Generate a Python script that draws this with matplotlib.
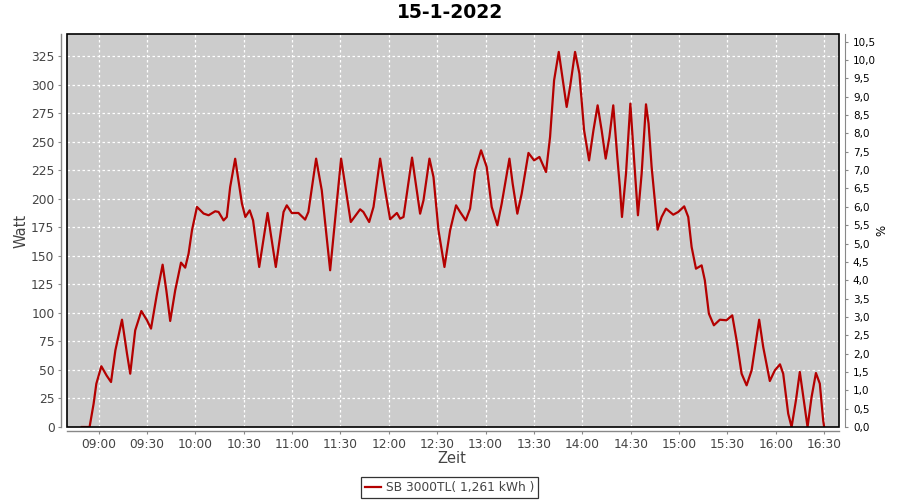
import matplotlib
matplotlib.use("Agg")
import matplotlib.pyplot as plt
from matplotlib.patches import Rectangle
from matplotlib.ticker import FixedLocator, FuncFormatter

# ---- data (minutes after 09:00, Watt) ----
minutes = [-10.4, -5.6, -3.1, -1.4, 1.7, 5.0, 7.7, 10.4, 14.5, 17.6, 19.6, 22.7, 26.5, 30.0,
           32.5, 36.2, 39.7, 42.0, 44.4, 47.5, 51.1, 53.7, 55.8, 57.9, 61.0, 65.1, 68.2, 72.3,
           74.4, 77.5, 79.5, 81.6, 84.7, 88.9, 91.0, 93.7, 95.8, 99.6, 104.8, 109.9, 114.7,
           116.7, 119.8, 123.9, 128.1, 130.1, 134.9, 138.4, 143.6, 150.4, 156.4, 162.2, 164.2,
           167.8, 170.5, 174.6, 177.7, 180.8, 185.0, 187.0, 189.1, 194.4, 197.3, 199.4, 201.5,
           205.2, 207.7, 210.8, 214.5, 218.0, 221.7, 224.2, 227.7, 230.4, 233.5, 237.2, 240.7,
           243.8, 247.3, 250.0, 254.8, 256.8, 259.7, 262.4, 266.6, 270.1, 273.4, 277.5, 280.0,
           282.5, 285.4, 287.9, 290.3, 292.4, 295.5, 298.2, 301.1, 304.2, 306.9, 309.5, 312.0,
           314.5, 316.8, 319.2, 321.7, 323.3, 324.6, 327.1, 329.8, 332.0, 334.5, 336.8, 339.5,
           341.1, 343.0, 346.7, 349.2, 351.9, 356.4, 359.5, 363.2, 365.7, 367.8, 370.5, 374.0,
           376.0, 378.5, 381.6, 385.3, 389.4, 393.0, 395.7, 398.8, 401.9, 405.0, 409.7, 412.2,
           416.3, 419.4, 422.6, 424.6, 427.7, 429.8, 432.5, 434.9, 437.4, 439.7, 442.2, 444.9,
           447.3, 449.4, 450.0]
watt = [0, 0, 20.4, 38.0, 53.2, 45.0, 39.4, 67.2, 94.0, 64.3, 46.7, 84.7, 101.6, 93.5,
        86.2, 116.8, 142.2, 119.7, 92.9, 119.7, 144.0, 139.6, 151.9, 172.3, 192.8, 187.0, 185.5, 189.0,
        188.4, 181.0, 184.0, 210.3, 235.0, 195.7, 184.0, 189.8, 181.0, 140.2, 187.5, 140.2, 188.4,
        194.2, 187.5, 187.5, 181.7, 188.4, 235.1, 207.4, 137.3, 235.1, 179.6, 190.7, 188.4,
        179.6, 192.8, 235.1, 207.4, 182.0, 187.5, 182.5, 184.0, 236.0, 207.4, 186.9, 198.6,
        235.1, 219.0, 172.3, 140.2, 172.3, 194.2, 188.4, 181.0, 191.3, 224.9, 242.4, 227.8,
        192.8, 176.7, 195.7, 235.1, 213.2, 186.9, 204.4, 240.1, 233.6, 236.6, 223.4, 254.1,
        303.7, 328.6, 303.7, 280.4, 297.9, 328.6, 309.6, 259.9, 233.6, 259.9, 281.8, 259.9,
        235.1, 254.1, 281.8, 236.6, 210.3, 184.0, 222.0, 283.3, 236.6, 185.5, 222.0, 282.7,
        265.8, 227.8, 172.9, 184.0, 191.3, 186.0, 188.4, 193.3, 184.0, 157.7, 138.7, 141.6,
        128.5, 99.3, 89.1, 94.0, 93.5, 97.8, 75.9, 46.7, 36.5, 49.6, 94.0, 70.1,
        40.3, 49.6, 54.9, 46.7, 11.7, 0, 23.4, 48.2, 23.4, 0, 26.3, 47.3,
        38.0, 5.8, 0]
x_labels = ["09:00", "09:30", "10:00", "10:30", "11:00", "11:30", "12:00", "12:30",
            "13:00", "13:30", "14:00", "14:30", "15:00", "15:30", "16:00", "16:30"]
y_ticks = list(range(0, 326, 25))
pct_ticks = [i * 0.5 for i in range(22)]
title = "15-1-2022"
legend_label = "SB 3000TL( 1,261 kWh )"

def to_min(s):
    h, m = s.split(":")
    return int(h) * 60 + int(m)

x = [540 + m for m in minutes]
xt = [to_min(s) for s in x_labels]

W, H = 900, 500
fig = plt.figure(figsize=(9, 5), dpi=100)
L, R, T, B = 67, 839, 34, 427
ax = fig.add_axes([L / W, 1 - B / H, (R - L) / W, (B - T) / H])
ax.set_facecolor("#cccccc")

line, = ax.plot(x, watt, color="#b40000", lw=1.6, zorder=3, label=legend_label,
                solid_joinstyle="round")

span = x[-1] - x[0]
ax.set_xlim(x[0] - 0.02 * span, x[-1] + 0.02 * span)
ax.set_ylim(0, 344.3)

ax.xaxis.set_major_locator(FixedLocator(xt))
ax.set_xticklabels(x_labels)
ax.set_yticks(y_ticks)

ax.grid(True, color="white", linestyle=(0, (2, 2)), linewidth=0.9)
ax.set_axisbelow(True)

for s in ["top", "right"]:
    ax.spines[s].set_visible(False)
ax.spines["left"].set_position(("outward", 4))
ax.spines["bottom"].set_position(("outward", 3))
for s in ["left", "bottom"]:
    ax.spines[s].set_color("#888888")
    ax.spines[s].set_linewidth(1.0)
ax.tick_params(axis="both", length=2, color="#888888", labelsize=8.8,
               labelcolor="#444444", pad=3)

ax.add_patch(Rectangle((0, 0), 1, 1, transform=ax.transAxes, fill=False,
                       ec="black", lw=1.2, clip_on=False, zorder=5))

ax2 = ax.twinx()
ax2.set_ylim(0, 344.3 / 32.15)
ax2.set_yticks(pct_ticks)
ax2.yaxis.set_major_formatter(FuncFormatter(lambda v, p: f"{v:.1f}".replace(".", ",")))
for s in ["top", "left", "bottom"]:
    ax2.spines[s].set_visible(False)
ax2.spines["right"].set_position(("outward", 4))
ax2.spines["right"].set_color("#888888")
ax2.tick_params(axis="y", length=2, color="#888888", labelsize=7.5,
                labelcolor="black", pad=4)

fig.text(450 / W, 1 - 13 / H, title, ha="center", va="center",
         fontsize=13.5, fontweight="bold")
fig.text(20.7 / W, 1 - 230.7 / H, "Watt", rotation=90, ha="center", va="center",
         fontsize=10.5, color="#444444")
fig.text(451.7 / W, 1 - 458.7 / H, "Zeit", ha="center", va="center",
         fontsize=10.5, color="#444444")
fig.text(881.7 / W, 1 - 230 / H, "%", rotation=90, ha="center", va="center",
         fontsize=8.5, color="black")

leg = fig.legend(handles=[line], loc="center", bbox_to_anchor=(449.5 / W, 1 - 487.5 / H),
                 frameon=True, fancybox=False, edgecolor="black", fontsize=8.8,
                 handlelength=1.3, handletextpad=0.4, borderpad=0.3, borderaxespad=0)
leg.get_frame().set_linewidth(0.9)
for t in leg.get_texts():
    t.set_color("#444444")

fig.savefig("out.png", dpi=100)
